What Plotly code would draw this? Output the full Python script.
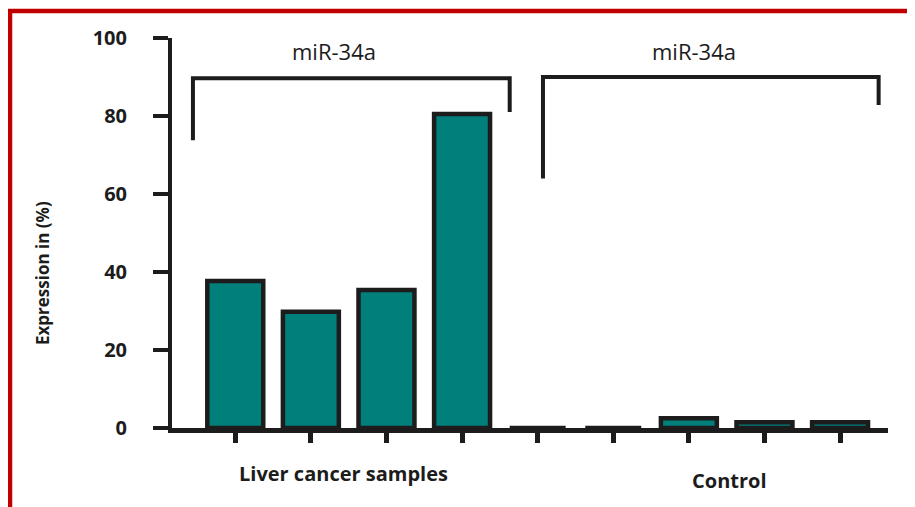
import plotly.graph_objects as go

# ---- data ----
categories = ["LC1", "LC2", "LC3", "LC4", "C1", "C2", "C3", "C4", "C5"]
expression = [37.7, 29.8, 35.4, 80.5, 0, 0, 2.5, 1.5, 1.5]
y_ticks = [0, 20, 40, 60, 80, 100]
group_labels = ["Liver cancer samples", "Control"]
bracket_labels = ["miR-34a", "miR-34a"]
y_title = "Expression in (%)"

FONT = "Open Sans, DejaVu Sans, sans-serif"
TEAL = "#007F7B"
DARK = "#1c1c1c"
RED = "#C00000"

# page body has an 8px margin; compensate so the picture lands where the reference is
OFF = 8
W, H = 915 - OFF, 507 - OFF
PL, PR, PT, PB = 172, 888, 38, 428          # plot area in reference pixels
L, T = PL - OFF, PT - OFF
R, B = W - (PR - OFF), H - (PB - OFF)
pw, ph = PR - PL, PB - PT


def px(x):
    return (x - PL) / pw


def py(y):
    return (PB - y) / ph


fig = go.Figure()
fig.add_trace(go.Bar(
    x=list(range(len(categories))),
    y=expression,
    marker=dict(color=TEAL, line=dict(color=DARK, width=4.5)),
    hovertext=categories,
    showlegend=False,
))

shapes = []
# brackets (data coords: category index on x)
shapes.append(dict(type="path", xref="x", yref="y",
                   path="M -0.56,73.8 L -0.56,89.7 L 3.63,89.7 L 3.63,81",
                   line=dict(color=DARK, width=4)))
shapes.append(dict(type="path", xref="x", yref="y",
                   path="M 4.07,64 L 4.07,90 L 8.51,90 L 8.51,82.8",
                   line=dict(color=DARK, width=4)))
# red frame
shapes.append(dict(type="line", xref="paper", yref="paper",
                   x0=px(8), x1=px(930), y0=py(11), y1=py(11),
                   line=dict(color=RED, width=4.5)))
shapes.append(dict(type="line", xref="paper", yref="paper",
                   x0=px(10), x1=px(10), y0=py(9), y1=py(520),
                   line=dict(color=RED, width=4.5)))


def ann(text, x, y, size, angle=0):
    return dict(text=text, x=px(x), y=py(y), xref="paper", yref="paper",
                xanchor="center", yanchor="middle", textangle=angle,
                showarrow=False, font=dict(family=FONT, size=size, color=DARK))


annotations = [
    ann(bracket_labels[0], 334, 51, 22),
    ann(bracket_labels[1], 694, 51, 22),
    ann("<b>%s</b>" % group_labels[0], 343, 473, 20),
    ann("<b>%s</b>" % group_labels[1], 729, 480, 20),
    ann("<b>%s</b>" % y_title, 42, 273, 17, -90),
]

fig.update_layout(
    width=W, height=H,
    margin=dict(l=L, r=R, t=T, b=B, pad=0),
    paper_bgcolor="white", plot_bgcolor="white",
    bargap=0.26,
    shapes=shapes,
    annotations=annotations,
    xaxis=dict(range=[-0.837, 8.634], showline=True, linewidth=5, linecolor=DARK,
               ticks="outside", ticklen=10, tickwidth=5, tickcolor=DARK,
               tickvals=list(range(len(categories))), showticklabels=False,
               showgrid=False, zeroline=False),
    yaxis=dict(range=[0, 100], showline=True, linewidth=4, linecolor=DARK,
               ticks="outside", ticklen=15, tickwidth=3.5, tickcolor=DARK,
               tickvals=y_ticks, ticklabelstandoff=22,
               tickfont=dict(family=FONT, size=20, color=DARK, weight="bold"),
               showgrid=False, zeroline=False),
)

fig.write_html("out.html")
